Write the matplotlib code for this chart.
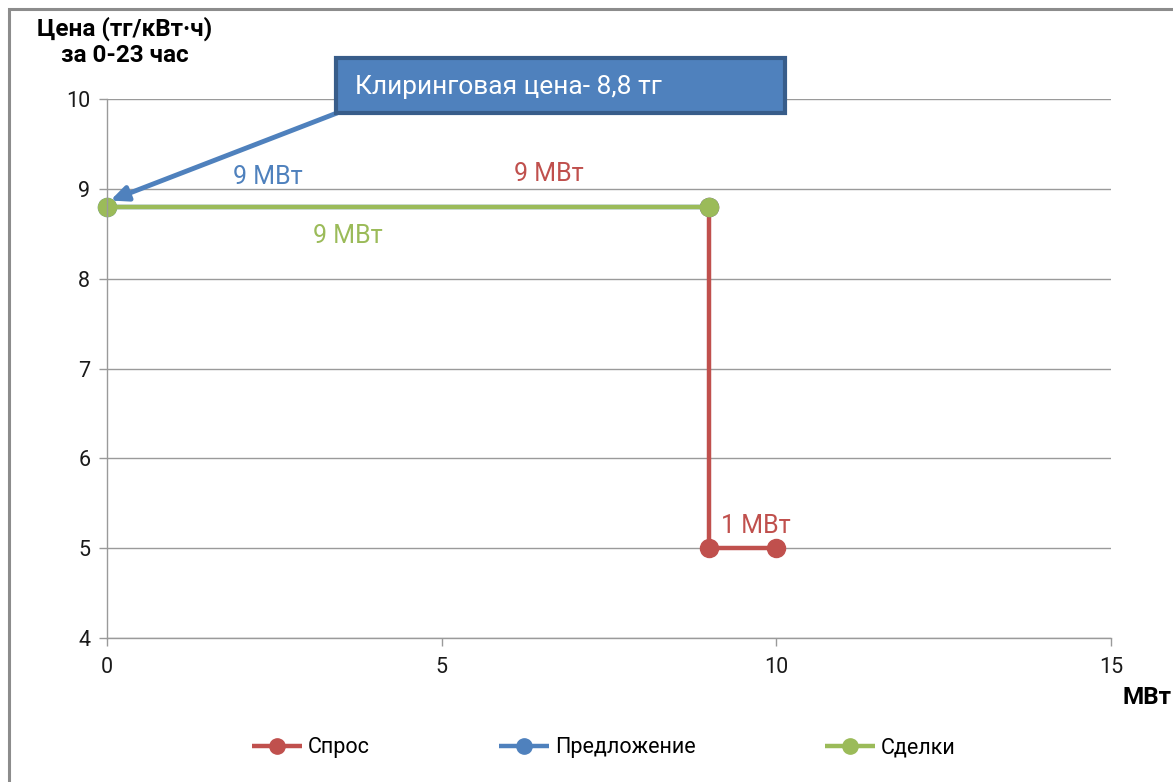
import matplotlib.pyplot as plt
from matplotlib.patches import Rectangle

plt.rcParams["font.family"] = ["Roboto", "DejaVu Sans"]

# Data
demand_x = [0, 9, 9, 10]
demand_y = [8.8, 8.8, 5, 5]
supply_x = [0, 9]
supply_y = [8.8, 8.8]
deals_x = [0, 9]
deals_y = [8.8, 8.8]

series_names = ["Спрос", "Предложение", "Сделки"]
clearing_text = "Клиринговая цена- 8,8 тг"
clearing_price = 8.8

# label text, x, y, colour index
data_labels = [
    ("9 МВт", 2.4, 9.13, 1),
    ("9 МВт", 6.6, 9.16, 0),
    ("9 МВт", 3.6, 8.47, 2),
    ("1 МВт", 9.7, 5.25, 0),
]

RED = "#C0504D"
BLUE = "#4F81BD"
GREEN = "#9BBB59"
colors = [RED, BLUE, GREEN]
GRID = "#9a9a9a"

fig = plt.figure(figsize=(11.73, 7.82), dpi=100)
ax = fig.add_axes([107 / 1173, 1 - 638 / 782, 1004 / 1173, 539 / 782])

# outer frame (cut off on the right and bottom like the source)
fig.patches.append(Rectangle((8.5 / 1173, -0.05), 1.2, 1 - 8.5 / 782 + 0.05,
                             transform=fig.transFigure, fill=False,
                             edgecolor="#8c8c8c", linewidth=2.2))

style = dict(linewidth=3.2, marker="o", markersize=13, solid_capstyle="butt",
             clip_on=False)
ax.plot(demand_x[1:], demand_y[1:], color=RED, label=series_names[0], **style)
ax.plot(supply_x, supply_y, color=BLUE, label=series_names[1], **style)
ax.plot(deals_x, deals_y, color=GREEN, label=series_names[2], **style)

ax.set_xlim(0, 15)
ax.set_ylim(4, 10)
ax.set_xticks([0, 5, 10, 15])
ax.set_yticks(range(4, 11))
ax.yaxis.grid(True, color=GRID, linewidth=1)
ax.set_axisbelow(True)
for side in ["top", "right"]:
    ax.spines[side].set_visible(False)
for side in ["left", "bottom"]:
    ax.spines[side].set_color(GRID)
    ax.spines[side].set_linewidth(1)
ax.tick_params(axis="both", colors=GRID, length=6, width=1, labelsize=15.5,
               labelcolor="#1a1a1a")
ax.tick_params(axis="y", pad=6)
ax.tick_params(axis="x", pad=8)

for text, x, y, ci in data_labels:
    ax.text(x, y, text, color=colors[ci], fontsize=18, ha="center", va="center")

# callout box with arrow
ax.annotate("", xy=(0.05, clearing_price + 0.07), xycoords="data",
            xytext=(337 / 1173, 1 - 113 / 782), textcoords="figure fraction",
            arrowprops=dict(arrowstyle="-|>,head_length=1.0,head_width=0.45",
                            color=BLUE, linewidth=3.5, shrinkA=0, shrinkB=0))
fig.patches.append(Rectangle((336 / 1173, 1 - 113 / 782), 449 / 1173, 55 / 782,
                             transform=fig.transFigure, facecolor=BLUE,
                             edgecolor="#385D8A", linewidth=3, zorder=5))
fig.text(355 / 1173, 1 - 87 / 782, clearing_text, color="white", fontsize=19,
         ha="left", va="center", zorder=6)

# axis titles
fig.text(125 / 1173, 1 - 42 / 782, "Цена (тг/кВт·ч)\nза 0-23 час", fontsize=17.5,
         fontweight="bold", ha="center", va="center", linespacing=1.15)
fig.text(1147 / 1173, 1 - 697 / 782, "МВт", fontsize=17.5, fontweight="bold",
         ha="center", va="center")

leg = fig.legend(loc="center", bbox_to_anchor=(604 / 1173, 1 - 748 / 782),
                 ncol=3, frameon=False, handlelength=2.3,
                 handletextpad=0.3, columnspacing=6.0,
                 prop={"size": 15.5})
for h in leg.legend_handles:
    h.set_markersize(11)

fig.savefig("out.png", dpi=100)
